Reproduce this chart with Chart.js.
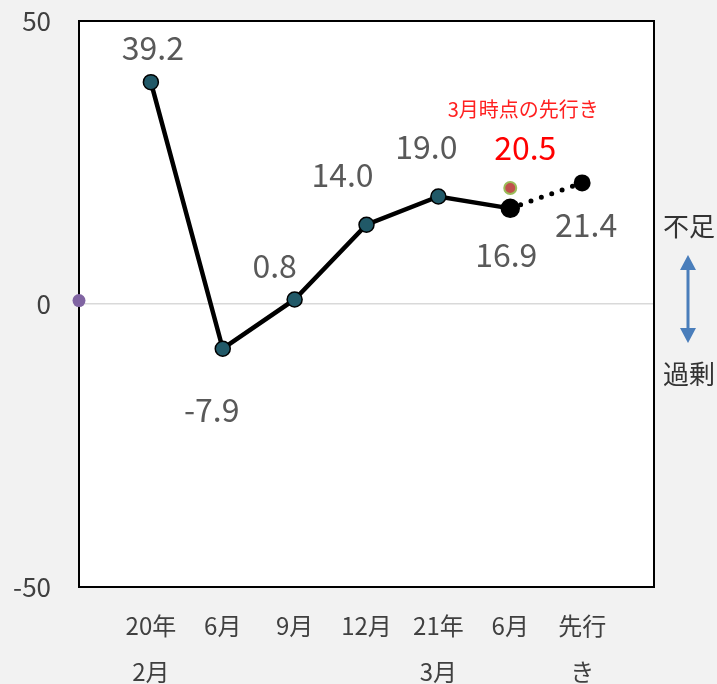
<!DOCTYPE html>
<html>
<head>
<meta charset="utf-8">
<script src="https://cdn.jsdelivr.net/npm/chart.js@4/dist/chart.umd.min.js"></script>
<style>
  html, body { margin: 0; padding: 0; background: #f2f2f2; }
  canvas { display: block; }
</style>
</head>
<body>
<canvas id="c" width="717" height="684"></canvas>
<script>
// ---- data ----
const categories = ['', ['20年', '2月'], '6月', '9月', '12月', ['21年', '3月'], '6月', ['先行', 'き'], ''];
const actualValues = [null, 39.2, -7.9, 0.8, 14.0, 19.0, 16.9, null, null];
const forecastValues = [null, null, null, null, null, null, 16.9, 21.4, null];
const marchForecastValues = [null, null, null, null, null, null, 20.5, null, null];
const originValues = [0.6, null, null, null, null, null, null, null, null];
const yTicks = [-50, 0, 50];
const forecastNote = '3月時点の先行き';
const sideLabels = ['不足', '過剰'];

const FONT = "'Noto Sans CJK JP', 'Noto Sans', sans-serif";

// label placement (styles / offsets relative to the point)
const labelStyles = [
  { ds: 0, i: 1, dx: 2, dy: -34 },
  { ds: 0, i: 2, dx: -11, dy: 61 },
  { ds: 0, i: 3, dx: -20, dy: -34 },
  { ds: 0, i: 4, dx: -24, dy: -50 },
  { ds: 0, i: 5, dx: -12, dy: -50 },
  { ds: 0, i: 6, dx: -4, dy: 46 },
  { ds: 1, i: 7, dx: 4, dy: 42 },
  { ds: 2, i: 6, dx: 15, dy: -40, color: '#ff0000' }
];

const bgPlugin = {
  id: 'bg',
  beforeDraw(chart) {
    const { ctx, chartArea: a } = chart;
    ctx.save();
    ctx.fillStyle = '#f2f2f2';
    ctx.fillRect(0, 0, chart.width, chart.height);
    ctx.fillStyle = '#ffffff';
    ctx.fillRect(a.left, a.top, a.right - a.left, a.bottom - a.top);
    ctx.restore();
  },
  beforeDatasetsDraw(chart) {
    const { ctx, chartArea: a } = chart;
    ctx.save();
    ctx.strokeStyle = '#000000';
    ctx.lineWidth = 2;
    ctx.strokeRect(a.left, a.top, a.right - a.left, a.bottom - a.top);
    ctx.restore();
  }
};

const labelPlugin = {
  id: 'labels',
  afterDatasetsDraw(chart) {
    const { ctx, chartArea: a } = chart;
    ctx.save();
    ctx.textAlign = 'center';
    ctx.textBaseline = 'middle';
    labelStyles.forEach(s => {
      const el = chart.getDatasetMeta(s.ds).data[s.i];
      const v = chart.data.datasets[s.ds].data[s.i];
      ctx.font = '32px ' + FONT;
      ctx.fillStyle = s.color || '#595959';
      ctx.fillText(v.toFixed(1), el.x + s.dx, el.y + s.dy);
    });
    // note above the March forecast
    const red = chart.getDatasetMeta(2).data[6];
    ctx.font = '20px ' + FONT;
    ctx.fillStyle = '#ff2020';
    ctx.fillText(forecastNote, red.x + 13, red.y - 79);

    // side annotation: shortage / surplus with double arrow
    const y0 = chart.scales.y.getPixelForValue(0);
    const ax = a.right + 34;
    ctx.font = '26px ' + FONT;
    ctx.fillStyle = '#333333';
    ctx.fillText(sideLabels[0], ax + 1, y0 - 78);
    ctx.fillText(sideLabels[1], ax + 1, y0 + 70);
    const top = y0 - 49, bot = y0 + 39, hl = 15, hw = 8;
    ctx.strokeStyle = '#4a7ebb';
    ctx.fillStyle = '#4a7ebb';
    ctx.lineWidth = 3;
    ctx.beginPath();
    ctx.moveTo(ax, top + hl - 1);
    ctx.lineTo(ax, bot - hl + 1);
    ctx.stroke();
    ctx.beginPath();
    ctx.moveTo(ax, top); ctx.lineTo(ax - hw, top + hl); ctx.lineTo(ax + hw, top + hl); ctx.closePath(); ctx.fill();
    ctx.beginPath();
    ctx.moveTo(ax, bot); ctx.lineTo(ax - hw, bot - hl); ctx.lineTo(ax + hw, bot - hl); ctx.closePath(); ctx.fill();
    ctx.restore();
  }
};

new Chart(document.getElementById('c'), {
  type: 'line',
  data: {
    labels: categories,
    datasets: [
      {
        data: actualValues,
        order: 1,
        borderColor: '#000000',
        borderWidth: 4.5,
        tension: 0,
        spanGaps: false,
        pointRadius: ctx => ctx.dataIndex === 6 ? 9 : 7.5,
        pointBackgroundColor: ctx => ctx.dataIndex === 6 ? '#000000' : '#215968',
        pointBorderColor: '#000000',
        pointBorderWidth: 1.5,
        clip: false
      },
      {
        data: forecastValues,
        order: 2,
        borderColor: '#000000',
        borderWidth: 5,
        borderDash: [0, 11],
        borderCapStyle: 'round',
        tension: 0,
        pointRadius: ctx => ctx.dataIndex === 7 ? 8.5 : 0,
        pointBackgroundColor: '#000000',
        pointBorderColor: '#000000',
        pointBorderWidth: 0,
        clip: false
      },
      {
        data: marchForecastValues,
        order: 0,
        showLine: false,
        pointRadius: 6,
        pointBackgroundColor: '#c0504d',
        pointBorderColor: '#9bbb59',
        pointBorderWidth: 2,
        clip: false
      },
      {
        data: originValues,
        order: 0,
        showLine: false,
        pointRadius: 6.5,
        pointBackgroundColor: '#8064a2',
        pointBorderColor: '#8064a2',
        pointBorderWidth: 0,
        clip: false
      }
    ]
  },
  options: {
    responsive: false,
    animation: false,
    events: [],
    layout: { padding: { top: 21, right: 63, bottom: 0, left: 0 } },
    plugins: { legend: { display: false }, tooltip: { enabled: false } },
    scales: {
      x: {
        type: 'category',
        offset: false,
        grid: { display: false, drawTicks: false },
        border: { display: false },
        ticks: {
          autoSkip: false,
          maxRotation: 0,
          padding: 16,
          color: '#404040',
          font: { family: FONT, size: 24, lineHeight: 1.92 }
        },
        afterFit: s => { s.height = 97; }
      },
      y: {
        min: yTicks[0],
        max: yTicks[yTicks.length - 1],
        afterBuildTicks: s => { s.ticks = yTicks.map(v => ({ value: v })); },
        grid: {
          drawTicks: true,
          tickLength: 28,
          tickColor: 'rgba(0,0,0,0)',
          color: c => (c.tick && c.tick.value === 0) ? '#d9d9d9' : 'rgba(0,0,0,0)',
          lineWidth: 1.5
        },
        border: { display: false },
        ticks: {
          padding: 0,
          color: '#404040',
          font: { family: FONT, size: 26 }
        },
        afterFit: s => { s.width = 79; }
      }
    }
  },
  plugins: [bgPlugin, labelPlugin]
});
</script>
</body>
</html>
